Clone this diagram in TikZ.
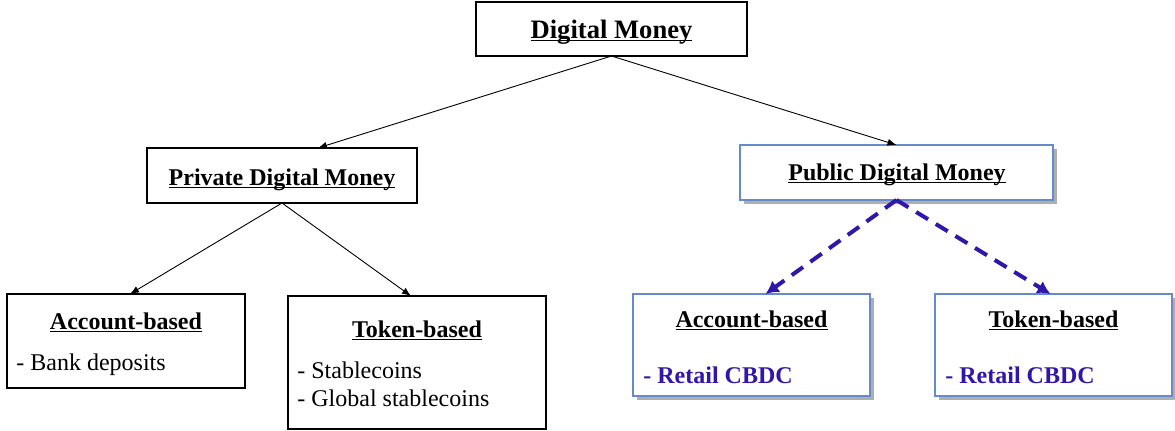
\documentclass[tikz,border=0pt]{standalone}
\usepackage{fontspec}
\setmainfont{Liberation Serif}
\usetikzlibrary{arrows.meta,shadows,calc}
\definecolor{cbdcblue}{RGB}{48,22,170}
\definecolor{boxblue}{RGB}{100,140,205}
\newcommand\myul[1]{\leavevmode\setbox0\hbox{#1}\rlap{\rule[-1.7pt]{\wd0}{0.7pt}}\box0}
\begin{document}
\begin{tikzpicture}[x=0.5pt,y=-0.5pt,
  blackbox/.style={draw=black,line width=0.75pt,fill=white,inner sep=0pt,outer sep=0pt},
  bluebox/.style={draw=boxblue,line width=1pt,fill=white,inner sep=0pt,outer sep=0pt,
    drop shadow={shadow xshift=1.8pt,shadow yshift=-1.8pt,fill=black!45,opacity=0.7}},
  ttl/.style={font=\fontsize{12}{14}\selectfont\bfseries,anchor=base,inner sep=0pt},
  itm/.style={font=\fontsize{12}{14}\selectfont,anchor=base west,inner sep=0pt},
  bitm/.style={font=\fontsize{12}{14}\selectfont\bfseries,text=cbdcblue,anchor=base west,inner sep=0pt},
  thinarrow/.style={draw=black,line width=0.45pt,-{Latex[length=4.5pt,width=3.5pt]}},
  dasharrow/.style={draw=cbdcblue,line width=2pt,dash pattern=on 7pt off 4.5pt,
    -{Latex[length=6.5pt,width=7pt]}}]
\useasboundingbox (0,0) rectangle (1175,430);

% boxes
\node[blackbox,minimum width=135.5pt,minimum height=27pt] (top) at (611.5,29) {};
\node[blackbox,minimum width=135pt,minimum height=27.5pt] (priv) at (282,175.5) {};
\node[blackbox,minimum width=119pt,minimum height=47pt] (accL) at (126,341) {};
\node[blackbox,minimum width=129pt,minimum height=66.5pt] (tokL) at (417,362.5) {};
\node[bluebox,minimum width=156.5pt,minimum height=27.5pt] (pub) at (896.5,172.5) {};
\node[bluebox,minimum width=118.5pt,minimum height=51pt] (accR) at (751.5,345) {};
\node[bluebox,minimum width=118.5pt,minimum height=51pt] (tokR) at (1053.5,345) {};

% texts
\node[ttl,font=\fontsize{13.3}{15}\selectfont\bfseries] (topT) at (611.5,38) {\myul{Digital Money}};
\node[ttl] (privT) at (282,185) {\myul{Private Digital Money}};
\node[ttl] (pubT) at (897,180) {\myul{Public Digital Money}};
\node[ttl] (accLT) at (126,329) {\myul{Account-based}};
\node[itm] (accL1) at (16,370) {- Bank deposits};
\node[ttl] (tokLT) at (417,337) {\myul{Token-based}};
\node[itm] (tokL1) at (297,378) {- Stablecoins};
\node[itm] (tokL2) at (297,406) {- Global stablecoins};
\node[ttl] (accRT) at (751.5,327) {\myul{Account-based}};
\node[bitm] (accR1) at (643,383) {- Retail CBDC};
\node[ttl] (tokRT) at (1053.5,327) {\myul{Token-based}};
\node[bitm] (tokR1) at (945,383) {- Retail CBDC};

% connectors
\draw[thinarrow] (top.south) -- ($(priv.north west)!0.633!(priv.north east)$);
\draw[thinarrow] (top.south) -- (pub.north);
\draw[thinarrow] (priv.south) -- ($(accL.north)+(4,0)$);
\draw[thinarrow] (priv.south) -- ($(tokL.north)+(-6,0)$);
\draw[dasharrow] (pub.south) -- ($(accR.north)+(14,0)$);
\draw[dasharrow] (pub.south) -- ($(tokR.north)+(-3,0)$);
\end{tikzpicture}
\end{document}
